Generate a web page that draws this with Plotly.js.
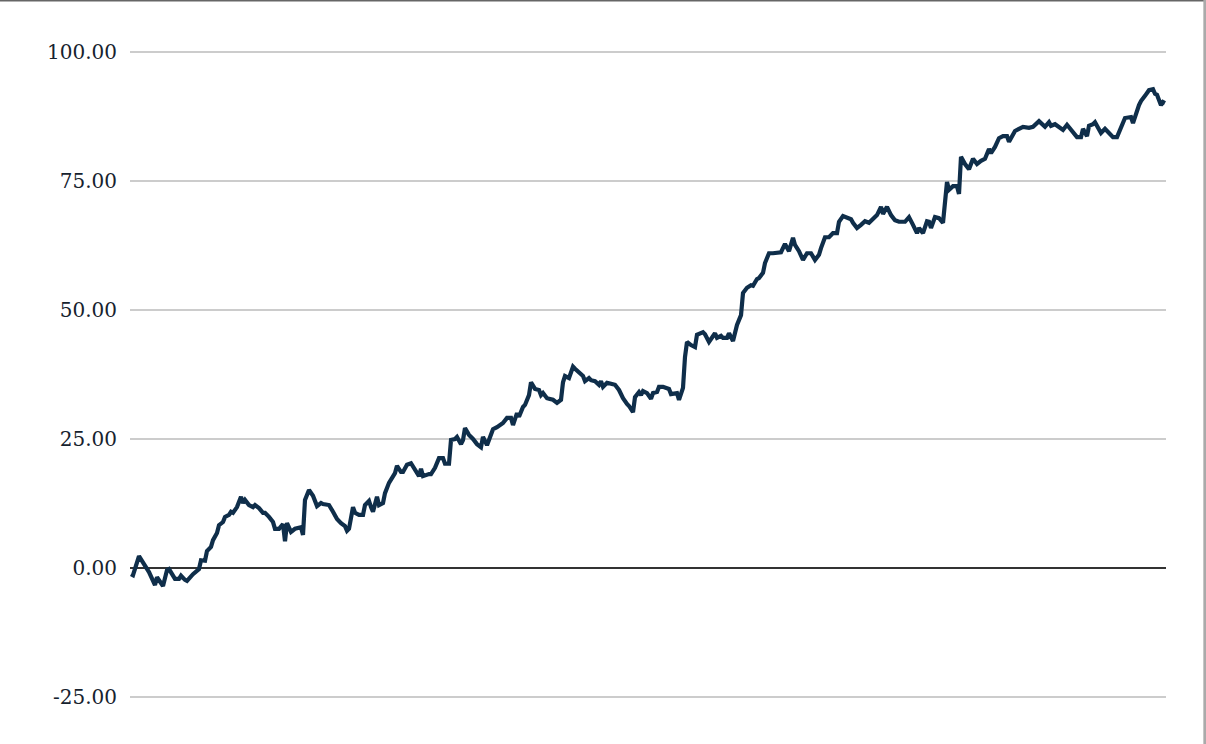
<!DOCTYPE html>
<html>
<head>
<meta charset="utf-8">
<script src="https://cdn.plot.ly/plotly-3.0.1.min.js"></script>
<style>
  html, body { margin: 0; padding: 0; background: #ffffff; }
  #chart { width: 1206px; height: 744px; }
</style>
</head>
<body>
<div id="chart"></div>
<script>
// Time index (sessions) and cumulative value
const sessions = [
  0,1,4,6,9,12,13,16,18,19,22,24,25,27,28,31,33,34,35,37,38,40,41,43,44,46,47,49,50,51,53,55,56,57,59,61,62,64,66,67,69,71,72,74,76,77,78,80,82,84,85,86,
  87,89,91,93,95,96,99,101,103,105,107,108,109,111,112,114,116,117,119,120,121,123,124,126,127,129,131,132,133,135,136,138,140,141,144,145,146,149,150,152,154,156,157,159,160,162,163,165,166,167,169,171,173,175,176,
  178,180,181,183,184,186,188,190,191,193,194,196,197,199,200,202,204,205,206,208,209,211,213,215,216,217,219,221,222,224,226,227,229,230,232,234,235,236,238,240,242,244,246,248,249,251,252,254,255,256,258,260,261,263,264,266,269,270,272,273,274,276,277,278,
  280,282,283,286,287,289,292,293,295,296,298,299,301,303,305,306,308,310,311,313,314,316,317,319,321,323,325,327,329,331,332,334,336,338,340,342,344,345,347,349,351,353,354,356,358,360,361,363,365,367,369,371,373,375,
  376,378,380,382,384,387,389,391,393,394,396,398,399,400,402,404,406,408,409,411,413,414,415,417,419,421,423,425,427,429,430,432,434,436,438,439,442,444,446,449,451,454,455,457,459,460,462,
  464,466,468,471,473,475,476,478,479,481,482,485,487,489,491,493,495,497,500,501,504,505,507,509,511,512,513,515,516,517
];
const values = [
  -1.2,-1.4,2.3,1.0,-0.8,-3.3,-1.8,-3.5,-0.4,-0.2,-2.1,-2.1,-1.5,-2.3,-2.5,-1.2,-0.4,-0.2,1.5,1.4,3.3,4.1,5.4,6.8,8.3,8.9,9.9,10.3,10.9,10.7,11.8,13.8,12.6,13.2,12.2,11.8,12.2,11.6,10.7,10.7,9.9,8.9,7.6,7.6,8.5,5.2,8.7,7.0,7.6,7.9,7.9,6.4,
  13.2,15.1,14.0,12.0,12.6,12.4,12.2,10.9,9.5,8.7,8.1,7.2,7.6,11.8,10.7,10.3,10.3,12.2,13.0,11.8,10.9,13.8,12.2,12.6,14.5,16.5,17.8,18.4,19.8,18.6,18.6,20.0,20.3,19.6,17.8,19.2,17.8,18.2,18.2,19.4,21.3,21.3,20.2,20.2,24.8,25.0,25.4,24.0,24.8,27.1,25.8,25.0,24.0,23.4,25.4,
  23.8,26.0,26.9,27.3,27.5,28.1,29.1,29.1,27.7,30.0,29.3,31.2,31.6,33.5,36.0,34.7,34.5,33.5,33.9,32.9,32.8,32.6,32.0,32.6,36.0,37.2,36.8,39.0,38.6,37.8,37.2,36.2,36.8,36.4,36.2,35.5,36.2,35.1,35.9,35.7,35.5,34.5,32.9,31.8,31.4,30.2,33.1,34.1,33.5,34.3,33.9,32.8,33.9,34.1,35.1,35.1,34.7,33.7,33.7,33.9,32.6,34.9,40.9,43.8,
  43.2,42.8,45.2,45.7,45.3,43.8,45.5,44.6,45.0,44.6,44.6,45.5,44.0,47.1,49.0,53.3,54.3,54.8,54.7,56.0,56.2,57.2,59.1,61.0,61.0,61.0,61.2,62.8,61.4,64.0,62.6,61.4,59.7,61.0,61.0,59.7,60.7,62.0,64.1,64.1,64.9,64.9,67.1,68.2,68.0,67.6,66.9,65.9,66.5,67.2,66.9,67.8,68.4,70.0,
  68.6,70.0,68.4,67.4,67.1,67.1,68.0,66.5,64.9,65.9,64.9,67.2,67.1,65.9,68.0,67.8,66.9,74.8,73.3,74.0,74.0,72.5,79.7,78.3,77.3,79.3,78.3,78.9,79.3,81.2,80.4,81.6,83.3,83.7,83.7,82.6,84.7,85.1,85.5,85.3,85.5,86.6,86.2,85.5,86.4,85.7,86.0,
  85.5,84.9,85.9,84.3,83.5,83.5,85.1,83.7,85.7,86.0,86.4,84.3,85.1,84.3,83.5,83.5,85.5,87.2,87.4,86.2,89.7,90.5,91.5,92.6,92.8,91.9,91.7,89.7,90.3,90.1
];
const tickVals = [-25, 0, 25, 50, 75, 100];
const tickLabels = ['-25.00', '0.00', '25.00', '50.00', '75.00', '100.00'];

const trace = {
  x: sessions,
  y: values,
  type: 'scatter',
  mode: 'lines',
  line: { color: '#0f2e4a', width: 4.2, shape: 'linear' },
  hoverinfo: 'skip'
};

const layout = {
  width: 1206,
  height: 744,
  margin: { l: 130, r: 40, t: 10, b: 0, pad: 0 },
  paper_bgcolor: '#ffffff',
  plot_bgcolor: '#ffffff',
  showlegend: false,
  xaxis: {
    range: [-0.5, 517.5],
    showgrid: false,
    zeroline: false,
    showline: false,
    showticklabels: false,
    ticks: ''
  },
  yaxis: {
    range: [-34.11, 108.14],
    tickmode: 'array',
    tickvals: tickVals,
    ticktext: tickLabels,
    showgrid: true,
    gridcolor: '#cccccc',
    gridwidth: 1.5,
    zeroline: true,
    zerolinecolor: '#333333',
    zerolinewidth: 2,
    showline: false,
    ticks: '',
    ticklabelstandoff: 12,
    tickfont: { family: '"DejaVu Serif", "Liberation Serif", serif', size: 20, color: '#16222e' }
  },
  shapes: [
    { type: 'line', xref: 'paper', yref: 'paper', x0: -0.126, x1: 1.04, y0: 1.0136, y1: 1.0136,
      line: { color: '#666666', width: 3 } },
    { type: 'line', xref: 'paper', yref: 'paper', x0: 1.0375, x1: 1.0375, y0: 0, y1: 1.0136,
      line: { color: '#aaaaaa', width: 3 } }
  ]
};

Plotly.newPlot('chart', [trace], layout, { displayModeBar: false, staticPlot: true });
</script>
</body>
</html>
